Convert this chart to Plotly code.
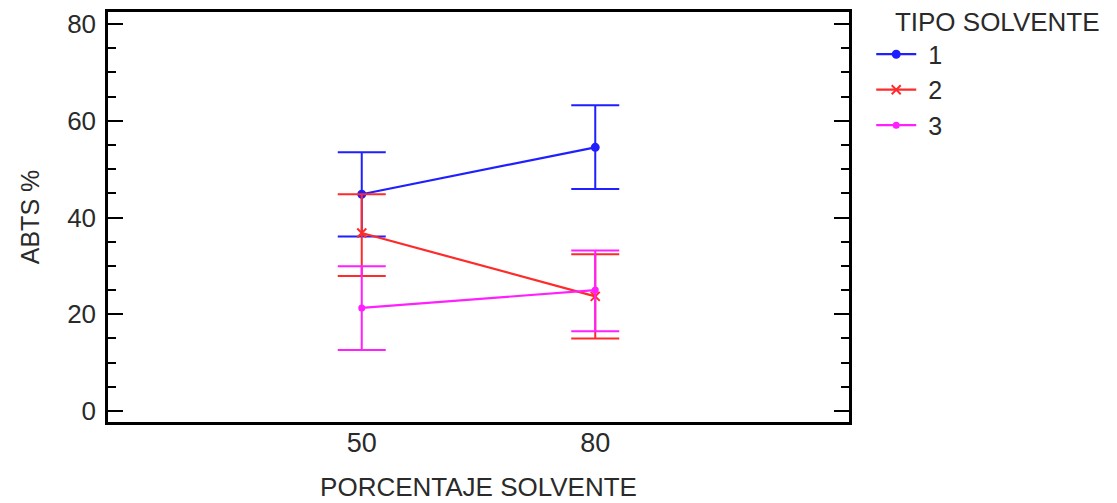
import plotly.graph_objects as go

x_vals = [50, 80]
series_names = ["1", "2", "3"]
means = {
    "1": [44.8, 54.5],
    "2": [36.8, 23.7],
    "3": [21.3, 25.0],
}
upper = {
    "1": [53.5, 63.2],
    "2": [44.8, 32.4],
    "3": [29.9, 33.2],
}
lower = {
    "1": [36.1, 45.9],
    "2": [27.9, 15.0],
    "3": [12.6, 16.5],
}
colors = {"1": "#1f1fff", "2": "#ff2a2a", "3": "#ff1fff"}
symbols = {"1": "circle", "2": "x-thin", "3": "circle"}
msizes = {"1": 7, "2": 9, "3": 5}

FONT = "Liberation Sans, Arial, sans-serif"
fig = go.Figure()
for s in series_names:
    m = means[s]
    ep = [u - v for u, v in zip(upper[s], m)]
    em = [v - l for v, l in zip(m, lower[s])]
    fig.add_trace(go.Scatter(
        x=x_vals, y=m, name="\u00a0" + s, mode="lines+markers",
        line=dict(color=colors[s], width=2.2),
        marker=dict(symbol=symbols[s], size=msizes[s], color=colors[s],
                    line=dict(color=colors[s], width=2)),
        error_y=dict(type="data", symmetric=False, array=ep, arrayminus=em,
                     color=colors[s], thickness=2, width=24),
    ))

# page body has an 8px margin, so the figure is shifted by 8px
fig.update_layout(
    width=1109, height=495,
    margin=dict(l=100, r=268, t=4, b=81, autoexpand=False),
    paper_bgcolor="white", plot_bgcolor="white",
    font=dict(family=FONT, size=26, color="#2a2a2a"),
    showlegend=True,
    legend=dict(
        title=dict(text="\u00a0\u00a0\u00a0TIPO SOLVENTE", font=dict(size=26)),
        x=1.03, y=1.035, xanchor="left", yanchor="top",
        font=dict(size=25), tracegroupgap=0, itemwidth=40,
        bgcolor="rgba(0,0,0,0)",
    ),
    xaxis=dict(
        range=[17.4, 112.6], tickvals=x_vals, ticktext=[str(v) for v in x_vals],
        showgrid=False, zeroline=False, showline=True, mirror=True,
        linecolor="black", linewidth=2.5, ticks="", ticklabelstandoff=-5,
        automargin=False,
        title=dict(text="PORCENTAJE SOLVENTE", standoff=21, font=dict(size=26)),
        tickfont=dict(size=27),
    ),
    yaxis=dict(
        range=[-2.27, 82.48], tickvals=[0, 20, 40, 60, 80],
        showgrid=False, zeroline=False, showline=True, mirror="ticks",
        linecolor="black", linewidth=2.5, ticks="inside", ticklen=15,
        tickwidth=2, tickcolor="black", ticklabelstandoff=4,
        automargin=False,
        minor=dict(dtick=5, ticks="inside", ticklen=8, tickwidth=2,
                   tickcolor="black", showgrid=False),
        title=dict(text="ABTS %", standoff=21, font=dict(size=25)),
        tickfont=dict(size=26),
    ),
)

fig.write_html("out.html")
